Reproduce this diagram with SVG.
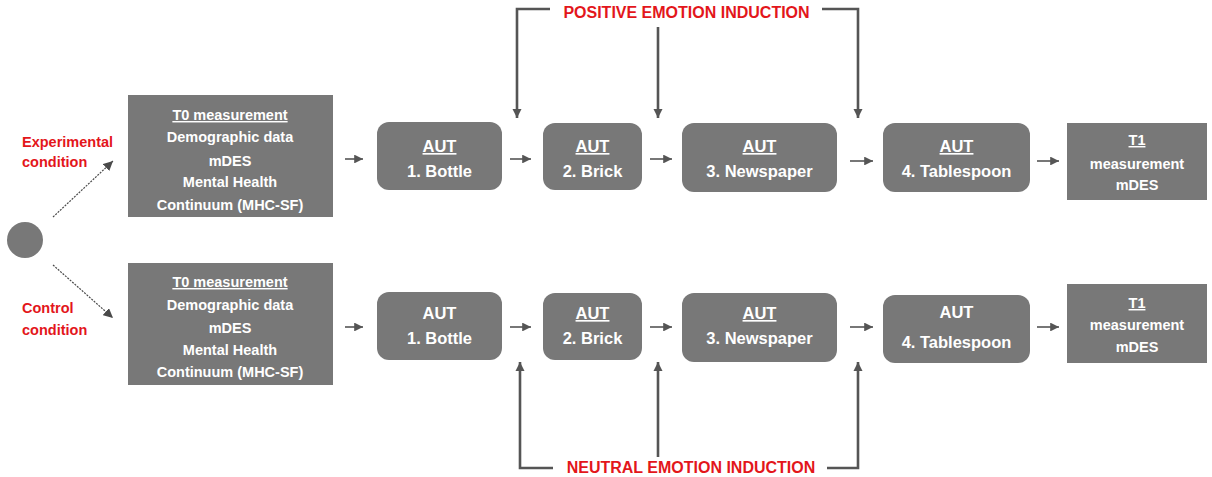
<svg xmlns="http://www.w3.org/2000/svg" width="1212" height="477" viewBox="0 0 1212 477">
<defs>
<style>
.box{fill:#787878;}
.t{font-family:"Liberation Sans",Arial,sans-serif;font-weight:bold;fill:#ffffff;text-anchor:middle;}
.s{font-size:14.5px;}
.a{font-size:16.5px;}
.u{text-decoration:underline;}
.red{font-family:"Liberation Sans",Arial,sans-serif;font-weight:bold;fill:#e3161b;font-size:14.5px;}
.big{font-size:16px;}
.ln{stroke:#555555;stroke-width:1.6;fill:none;}
.br{stroke:#555555;stroke-width:2.6;fill:none;}
.dg{stroke:#4a4a4a;stroke-width:1.2;fill:none;stroke-dasharray:2 1.2;}
</style>
<marker id="ah" viewBox="0 0 10 10" refX="10" refY="5" markerWidth="5.5" markerHeight="5.5" orient="auto" markerUnits="strokeWidth">
<path d="M0,0 L10,5 L0,10 z" fill="#555555"/>
</marker>
<marker id="ahb" viewBox="0 0 10 10" refX="10" refY="5" markerWidth="3.6" markerHeight="3.6" orient="auto" markerUnits="strokeWidth">
<path d="M0,0 L10,5 L0,10 z" fill="#555555"/>
</marker>
<marker id="ahd" viewBox="0 0 10 10" refX="10" refY="5" markerWidth="8" markerHeight="8" orient="auto" markerUnits="strokeWidth">
<path d="M0,0 L10,5 L0,10 z" fill="#4a4a4a"/>
</marker>
</defs>
<rect width="1212" height="477" fill="#ffffff"/>

<g id="start"><circle cx="25" cy="240" r="18" fill="#787878"/></g>

<g id="label-exp">
<text class="red" x="22" y="147">Experimental</text>
<text class="red" x="22" y="167">condition</text>
</g>
<g id="label-ctrl">
<text class="red" x="22" y="313">Control</text>
<text class="red" x="22" y="335">condition</text>
</g>

<g id="t0-top">
<rect class="box" x="128" y="95" width="205" height="122"/>
<text class="t s u" x="230" y="120">T0 measurement</text>
<text class="t s" x="230" y="142">Demographic data</text>
<text class="t s" x="230" y="166">mDES</text>
<text class="t s" x="230" y="187">Mental Health</text>
<text class="t s" x="230" y="210">Continuum (MHC-SF)</text>
</g>
<g id="t0-bot">
<rect class="box" x="128" y="263" width="205" height="122"/>
<text class="t s u" x="230" y="287">T0 measurement</text>
<text class="t s" x="230" y="310">Demographic data</text>
<text class="t s" x="230" y="333">mDES</text>
<text class="t s" x="230" y="355">Mental Health</text>
<text class="t s" x="230" y="377">Continuum (MHC-SF)</text>
</g>

<g id="aut1-top">
<rect class="box" x="377" y="122" width="125" height="68" rx="12"/>
<text class="t a u" x="439.5" y="152">AUT</text>
<text class="t a" x="439.5" y="177">1. Bottle</text>
</g>
<g id="aut2-top">
<rect class="box" x="543" y="123" width="99" height="67" rx="12"/>
<text class="t a u" x="592.5" y="152">AUT</text>
<text class="t a" x="592.5" y="177">2. Brick</text>
</g>
<g id="aut3-top">
<rect class="box" x="682" y="123" width="155" height="69" rx="12"/>
<text class="t a u" x="759.5" y="152">AUT</text>
<text class="t a" x="759.5" y="177">3. Newspaper</text>
</g>
<g id="aut4-top">
<rect class="box" x="883" y="123" width="147" height="69" rx="12"/>
<text class="t a u" x="956.5" y="152">AUT</text>
<text class="t a" x="956.5" y="177">4. Tablespoon</text>
</g>
<g id="t1-top">
<rect class="box" x="1067" y="123" width="140" height="77"/>
<text class="t s u" x="1137" y="145">T1</text>
<text class="t s" x="1137" y="169">measurement</text>
<text class="t s" x="1137" y="190">mDES</text>
</g>

<g id="aut1-bot">
<rect class="box" x="377" y="292" width="125" height="68" rx="12"/>
<text class="t a" x="439.5" y="319">AUT</text>
<text class="t a" x="439.5" y="344">1. Bottle</text>
</g>
<g id="aut2-bot">
<rect class="box" x="543" y="293" width="99" height="67" rx="12"/>
<text class="t a u" x="592.5" y="319">AUT</text>
<text class="t a" x="592.5" y="344">2. Brick</text>
</g>
<g id="aut3-bot">
<rect class="box" x="682" y="293" width="155" height="69" rx="12"/>
<text class="t a u" x="759.5" y="319">AUT</text>
<text class="t a" x="759.5" y="344">3. Newspaper</text>
</g>
<g id="aut4-bot">
<rect class="box" x="883" y="295" width="147" height="68" rx="12"/>
<text class="t a" x="956.5" y="318">AUT</text>
<text class="t a" x="956.5" y="348">4. Tablespoon</text>
</g>
<g id="t1-bot">
<rect class="box" x="1067" y="284" width="140" height="79"/>
<text class="t s u" x="1137" y="308">T1</text>
<text class="t s" x="1137" y="330">measurement</text>
<text class="t s" x="1137" y="352">mDES</text>
</g>

<g id="induction-labels">
<text class="red big" x="686.5" y="18" text-anchor="middle">POSITIVE EMOTION INDUCTION</text>
<text class="red big" x="691" y="473" text-anchor="middle">NEUTRAL EMOTION INDUCTION</text>
</g>

<g id="connectors">
<line class="dg" x1="53" y1="217" x2="113" y2="161" marker-end="url(#ahd)"/>
<line class="dg" x1="53" y1="265" x2="113" y2="318" marker-end="url(#ahd)"/>

<line class="ln" x1="345" y1="159" x2="363" y2="159" marker-end="url(#ah)"/>
<line class="ln" x1="510" y1="159" x2="531" y2="159" marker-end="url(#ah)"/>
<line class="ln" x1="650" y1="159" x2="672" y2="159" marker-end="url(#ah)"/>
<line class="ln" x1="850" y1="161" x2="873" y2="161" marker-end="url(#ah)"/>
<line class="ln" x1="1037" y1="161" x2="1059" y2="161" marker-end="url(#ah)"/>

<line class="ln" x1="345" y1="327" x2="363" y2="327" marker-end="url(#ah)"/>
<line class="ln" x1="510" y1="327" x2="531" y2="327" marker-end="url(#ah)"/>
<line class="ln" x1="650" y1="327" x2="672" y2="327" marker-end="url(#ah)"/>
<line class="ln" x1="850" y1="327" x2="873" y2="327" marker-end="url(#ah)"/>
<line class="ln" x1="1037" y1="327" x2="1059" y2="327" marker-end="url(#ah)"/>

<polyline class="br" points="550,9 517,9 517,118" marker-end="url(#ahb)"/>
<line class="br" x1="658" y1="27" x2="658" y2="118" marker-end="url(#ahb)"/>
<polyline class="br" points="822,9 858,9 858,118" marker-end="url(#ahb)"/>

<polyline class="br" points="553,468 520,468 520,362" marker-end="url(#ahb)"/>
<line class="br" x1="658" y1="457" x2="658" y2="362" marker-end="url(#ahb)"/>
<polyline class="br" points="827,468 858,468 858,362" marker-end="url(#ahb)"/>
</g>
</svg>
